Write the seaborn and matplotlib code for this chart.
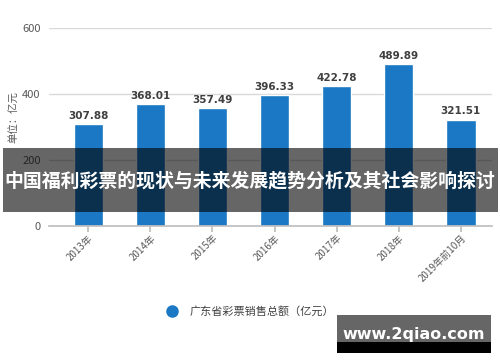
import matplotlib
matplotlib.use("Agg")
import matplotlib.pyplot as plt
import seaborn as sns
import pandas as pd
from matplotlib.lines import Line2D
from matplotlib.patches import Rectangle

categories = ["2013年", "2014年", "2015年", "2016年", "2017年", "2018年", "2019年前10月"]
values = [307.88, 368.01, 357.49, 396.33, 422.78, 489.89, 321.51]
yticks = [0, 200, 400, 600]
legend_label = "广东省彩票销售总额（亿元）"
ylabel = "单位：亿元"
banner = "中国福利彩票的现状与未来发展趋势分析及其社会影响探讨"
site = "www.2qiao.com"

sns.set_theme(style="white")
plt.rcParams['font.family'] = ['Noto Sans CJK SC', 'DejaVu Sans']

df = pd.DataFrame({"cat": categories, "val": values})

fig = plt.figure(figsize=(5, 3.62), dpi=100)
ax = fig.add_axes([0.098, 0.376, 0.886, 0.547])
bar_color = "#1a78c4"
sns.barplot(data=df, x="cat", y="val", color=bar_color, width=0.47, ax=ax, saturation=1)

ax.set_ylim(0, 600)
ax.set_xlim(-0.63, 6.5)
ax.set_yticks(yticks)
ax.yaxis.grid(True, color="#d9d9d9", linewidth=1)
ax.set_axisbelow(True)
for s in ["top", "right", "left"]:
    ax.spines[s].set_visible(False)
ax.spines["bottom"].set_color("#bfbfbf")
ax.tick_params(axis="y", length=0, labelsize=8, labelcolor="#595959", pad=6)
ax.tick_params(axis="x", length=4, color="#bfbfbf", bottom=True, labelsize=7, labelcolor="#595959", pad=1)
ax.set_xticks(range(len(categories)))
ax.set_xticklabels(categories, rotation=45, ha="right", rotation_mode="anchor")
ax.set_xlabel("")
ax.set_ylabel(ylabel, fontsize=7.5, color="#595959", labelpad=4)
ax.yaxis.set_label_coords(-0.068, 0.55)

for i, v in enumerate(values):
    ax.text(i, v + 10, f"{v:.2f}", ha="center", va="bottom", fontsize=7.5,
            fontweight="bold", color="#404040", family=['DejaVu Sans'])

handle = Line2D([], [], marker="o", linestyle="none", markersize=8,
                markerfacecolor=bar_color, markeredgecolor=bar_color)
fig.legend([handle], [legend_label], loc="center", bbox_to_anchor=(0.495, 0.14),
           frameon=False, fontsize=8, labelcolor="#404040", handletextpad=0.6)

# overlay banner
fig.patches.append(Rectangle((0.006, 1 - 212 / 362), 0.99, 64 / 362, transform=fig.transFigure,
                             facecolor="black", alpha=0.6, edgecolor="none", zorder=5))
fig.text(0.5, 1 - 181 / 362, banner, ha="center", va="center", color="white",
         fontsize=13.6, fontweight="bold", zorder=6)

# bottom-right site box
fig.patches.append(Rectangle((337 / 500, 1 - 342 / 362), 154 / 500, 27 / 362, transform=fig.transFigure,
                             facecolor="#666666", edgecolor="none", zorder=5))
fig.patches.append(Rectangle((337 / 500, 1 - 353 / 362), 154 / 500, 11 / 362, transform=fig.transFigure,
                             facecolor="black", edgecolor="none", zorder=5))
fig.text(414 / 500, 1 - 334 / 362, site, ha="center", va="center", color="white",
         fontsize=11.5, fontweight="bold", family=['DejaVu Sans'], zorder=6)

fig.savefig("out.png", dpi=100)
